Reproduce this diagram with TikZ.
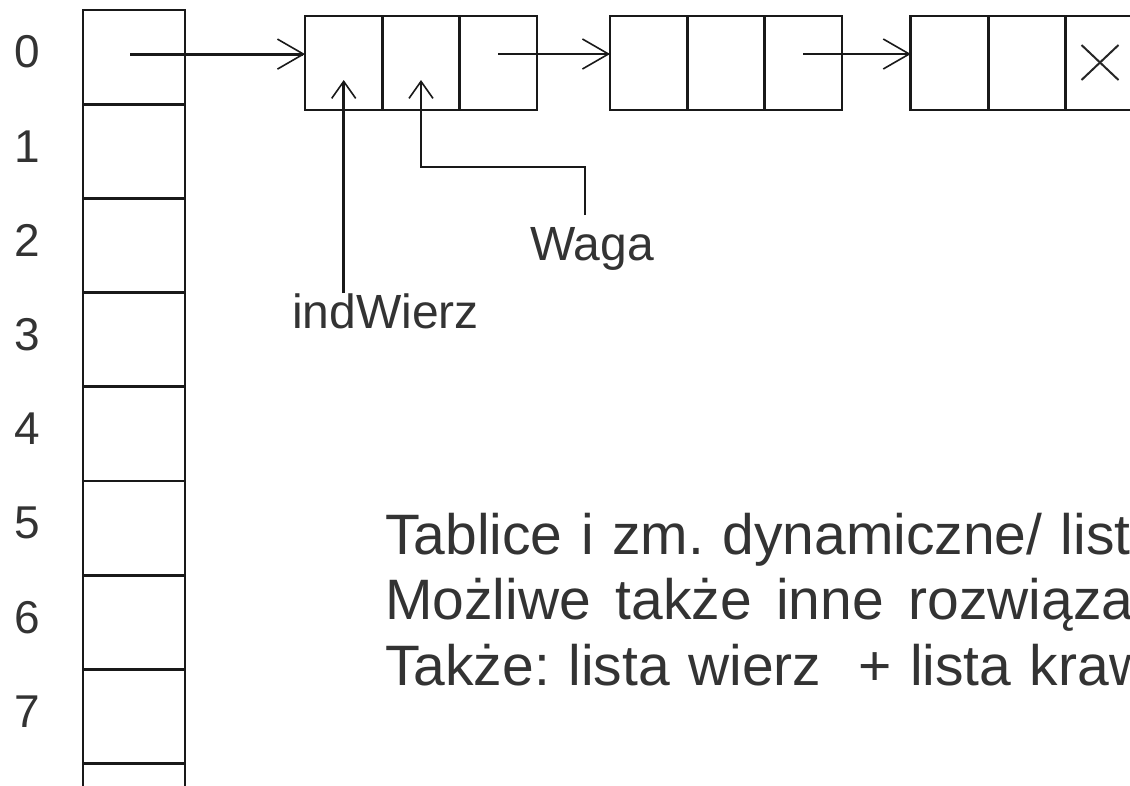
\documentclass[tikz,border=0pt]{standalone}
\usepackage{fontspec}
\setmainfont{Liberation Sans}
\usetikzlibrary{arrows.meta,positioning}
\frenchspacing
\newcommand\wordgap[1]{\spaceskip #1\relax}

\tikzset{
  cell/.style={draw=black!90, line width=2.8pt, minimum width=102pt, minimum height=94.2pt, inner sep=0pt, outer sep=0pt},
  item/.style={draw=black!90, line width=2.8pt, minimum width=77.3pt, minimum height=94pt, inner sep=0pt, outer sep=0pt},
  idx/.style={text=black!80, font=\fontsize{46}{46}\selectfont, inner sep=0pt},
  field/.style={text=black!80, font=\fontsize{48}{48}\selectfont, inner sep=0pt, anchor=base west},
  note/.style={text=black!80, font={\fontsize{57}{57}\selectfont\wordgap{18.5pt}}, inner sep=0pt, anchor=base west},
  link/.style={draw=black!90, line width=2.8pt, -{Straight Barb[length=26pt,width=30pt,line width=1.6pt]}},
  ptr/.style={draw=black!90, line width=2.8pt, -{Straight Barb[length=17pt,width=24pt,line width=1.6pt]}}
}

\begin{document}
\begin{tikzpicture}[x=1pt, y=-1pt]
    \useasboundingbox (0, 0) rectangle (1130, 785);
    \clip (0, 0) rectangle (1130, 785);

    % array of list heads
    \node[cell] (c0) at (134, 57.1) {};
    \node[cell, below=0pt of c0] (c1) {};
    \node[cell, below=0pt of c1] (c2) {};
    \node[cell, below=0pt of c2] (c3) {};
    \node[cell, below=0pt of c3] (c4) {};
    \node[cell, below=0pt of c4] (c5) {};
    \node[cell, below=0pt of c5] (c6) {};
    \node[cell, below=0pt of c6] (c7) {};
    \node[cell, below=0pt of c7] (c8) {};

    \node[idx] (l0) at (27, 52) {0};
    \node[idx] (l1) at (27, 146.2) {1};
    \node[idx] (l2) at (27, 240.4) {2};
    \node[idx] (l3) at (27, 334.6) {3};
    \node[idx] (l4) at (27, 428.8) {4};
    \node[idx] (l5) at (27, 523) {5};
    \node[idx] (l6) at (27, 617.2) {6};
    \node[idx] (l7) at (27, 711.4) {7};

    % list elements: vertex, weight, next
    \node[item] (n1a) at (343.7, 63) {};
    \node[item, right=0pt of n1a] (n1b) {};
    \node[item, right=0pt of n1b] (n1c) {};

    \node[item] (n2a) at (648.7, 63) {};
    \node[item, right=0pt of n2a] (n2b) {};
    \node[item, right=0pt of n2b] (n2c) {};

    \node[item] (n3a) at (949.5, 63) {};
    \node[item, right=0pt of n3a] (n3b) {};
    \node[item, right=0pt of n3b] (n3c) {};

    \draw[link] ([shift={(-4pt,3pt)}]c0.center) -- ([yshift=3pt]c0.center -| n1a.west);
    \draw[link] ([yshift=9pt]n1c.center) -- ([yshift=9pt]n2a.west);
    \draw[link] ([yshift=9pt]n2c.center) -- ([yshift=9pt]n3a.west);

    % end of list
    \draw[black!85, line width=2pt] ([shift={(-22.6pt,18pt)}]n3c.center) -- ([shift={(14.4pt,-17pt)}]n3c.center);
    \draw[black!85, line width=2pt] ([shift={(14.4pt,18pt)}]n3c.center) -- ([shift={(-22.6pt,-17pt)}]n3c.center);

    % field names
    \node[field] (iw) at (292, 328) {indWierz};
    \node[field] (wg) at (530, 260) {Waga};

    \coordinate (foot) at (585, 215);
    \coordinate (bend) at (585, 167);
    \draw[ptr] (iw.north -| n1a.center) -- ([yshift=-17pt]n1a.center);
    \draw[ptr] (foot) -- (bend) -| ([yshift=-17pt]n1b.center);

    \node[note] (t1) at (385, 554) {Tablice i zm. dynamiczne/ listy};
    \node[note, font={\fontsize{57}{57}\selectfont\wordgap{24.5pt}}] (t2) at (385, 619) {Możliwe także inne rozwiązania};
    \node[note] (t3) at (385, 685) {Także: lista wierz\ \ + lista krawędzi};
\end{tikzpicture}
\end{document}
